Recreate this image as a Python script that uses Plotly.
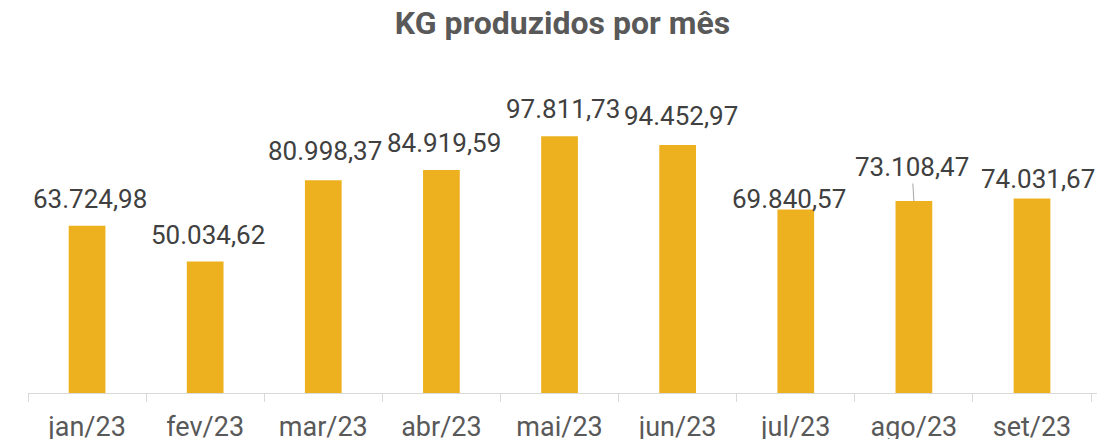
import plotly.graph_objects as go

# ---- data ----
months = ["jan/23", "fev/23", "mar/23", "abr/23", "mai/23", "jun/23", "jul/23", "ago/23", "set/23"]
kg_values = [63724.98, 50034.62, 80998.37, 84919.59, 97811.73, 94452.97, 69840.57, 73108.47, 74031.67]
title_text = "KG produzidos por mês"

# ---- style ----
BAR_COLOR = "#EDB11F"
LABEL_COLOR = "#404040"
TICK_COLOR = "#595959"
AXIS_COLOR = "#D9D9D9"
FONT = "Roboto"
# per-label pixel offsets (dx, dy) of the data labels relative to the bar top (Excel manual placement)
LABEL_OFFSETS = [(3, -27), (3, -27), (2, -29), (3, -27), (3, -27), (3, -29), (-7, -11), (-2, -34), (6, -20)]
LEADER = [False, False, False, False, False, False, False, True, False]


def fmt_br(v):
    s = f"{v:,.2f}"
    return s.replace(",", "X").replace(".", ",").replace("X", ".")


fig = go.Figure()
fig.add_trace(go.Bar(
    x=months, y=kg_values,
    marker=dict(color=BAR_COLOR, line=dict(width=0)),
    hoverinfo="skip",
))

annotations = []
for m, v, (dx, dy), lead in zip(months, kg_values, LABEL_OFFSETS, LEADER):
    annotations.append(dict(
        x=m, y=v, xref="x", yref="y",
        text=fmt_br(v),
        showarrow=True, ax=dx, ay=dy, axref="pixel", ayref="pixel",
        arrowhead=0, arrowwidth=1, standoff=0,
        arrowcolor="#A6A6A6" if lead else "rgba(0,0,0,0)",
        font=dict(family=FONT, size=26, color=LABEL_COLOR),
        xanchor="center", yanchor="middle",
    ))

fig.update_layout(
    width=1101, height=439,
    margin=dict(l=28, r=4, t=70, b=46, autoexpand=False),
    paper_bgcolor="white", plot_bgcolor="white",
    bargap=0.689,
    showlegend=False,
    title=dict(
        text="<b>" + title_text + "</b>",
        font=dict(family=FONT, size=32, color=TICK_COLOR),
        x=0.5, xref="paper", xanchor="center",
        y=1 - 23 / 439, yref="container", yanchor="middle",
    ),
    annotations=annotations,
    xaxis=dict(
        type="category", automargin=False,
        showline=True, linecolor=AXIS_COLOR, linewidth=1,
        ticks="outside", tickson="boundaries", ticklen=8, tickcolor=AXIS_COLOR, tickwidth=1,
        tickfont=dict(family=FONT, size=27, color=TICK_COLOR),
        ticklabelstandoff=10,
        showgrid=False, zeroline=False,
    ),
    yaxis=dict(
        range=[0, 123000], visible=False, showgrid=False, zeroline=False, automargin=False,
    ),
)

fig.write_html(
    "out.html",
    config={"displayModeBar": False},
    post_script="document.body.style.margin='0';document.body.style.overflow='hidden';",
)
